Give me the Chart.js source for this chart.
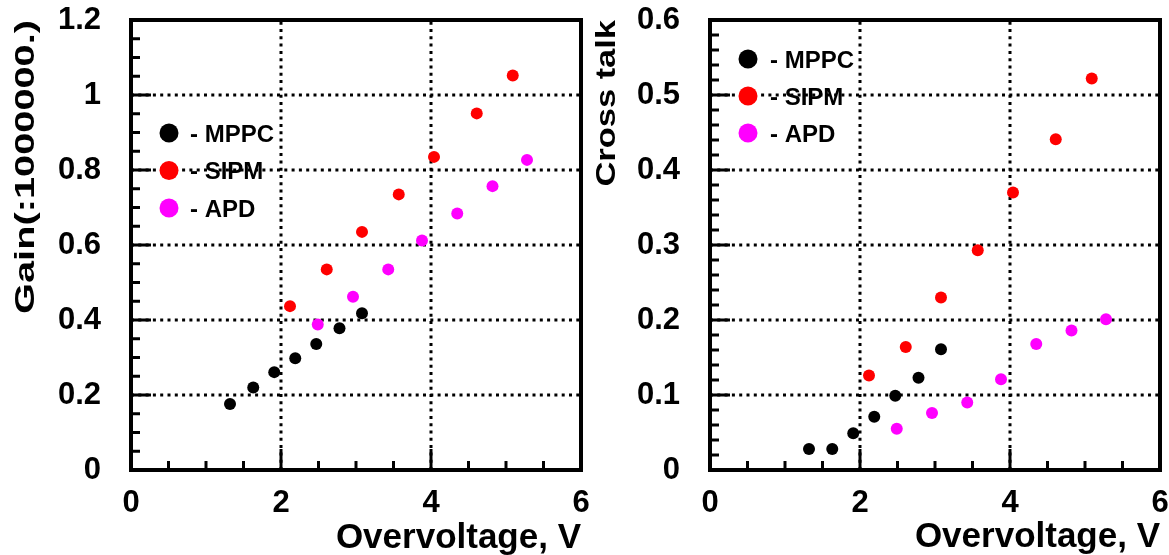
<!DOCTYPE html>
<html>
<head>
<meta charset="utf-8">
<script src="https://cdn.jsdelivr.net/npm/chart.js@4.4.1/dist/chart.umd.min.js"></script>
<style>
  html, body { margin: 0; padding: 0; background: #fff; }
  #wrap { position: relative; width: 1169px; height: 555px; overflow: hidden; }
  canvas { position: absolute; top: 0; }
  #gainChart { left: 0; }
  #ctChart { left: 590px; }
</style>
</head>
<body>
<div id="wrap">
  <canvas id="gainChart" width="590" height="555"></canvas>
  <canvas id="ctChart" width="579" height="555"></canvas>
</div>
<script>
// измерения: перенапряжение (В), усиление (x1e6) и кросс-толк
const seriesNames = ["MPPC", "SIPM", "APD"];
const seriesColors = ["#000000", "#ff0000", "#ff00ff"];

const overvoltageMPPC = [1.32, 1.63, 1.91, 2.19, 2.47, 2.78, 3.08];
const overvoltageSIPM = [2.12, 2.61, 3.08, 3.57, 4.04, 4.61, 5.09];
const overvoltageAPD = [2.49, 2.96, 3.43, 3.88, 4.35, 4.82, 5.28];

const gainMPPC = [0.176, 0.220, 0.261, 0.298, 0.336, 0.378, 0.418];
const gainSIPM = [0.437, 0.535, 0.635, 0.735, 0.835, 0.951, 1.052];
const gainAPD = [0.388, 0.462, 0.535, 0.612, 0.684, 0.757, 0.827];

const crossTalkMPPC = [0.028, 0.028, 0.049, 0.071, 0.099, 0.123, 0.161];
const crossTalkSIPM = [0.126, 0.164, 0.230, 0.293, 0.370, 0.441, 0.522];
const crossTalkAPD = [0.055, 0.076, 0.090, 0.121, 0.168, 0.186, 0.201];

const xTicks = [0, 2, 4, 6];
const gainTicks = [0, 0.2, 0.4, 0.6, 0.8, 1, 1.2];
const crossTalkTicks = [0, 0.1, 0.2, 0.3, 0.4, 0.5, 0.6];

Chart.defaults.font.family = "'Liberation Sans', Arial, sans-serif";
Chart.defaults.color = "#000";

function toPoints(xs, ys) {
  return xs.map((x, i) => ({ x: x, y: ys[i] }));
}

function makeDatasets(xsList, ysList) {
  return seriesNames.map((name, i) => ({
    label: name,
    data: toPoints(xsList[i], ysList[i]),
    backgroundColor: seriesColors[i],
    borderWidth: 0,
    pointRadius: 6,
    pointHoverRadius: 6,
  }));
}

// рамка, засечки, пунктирная сетка, легенда и подписи осей в стиле ROOT
const rootStyle = {
  id: "rootStyle",
  beforeDatasetsDraw(chart) {
    const ctx = chart.ctx;
    const a = chart.chartArea;
    const xs = chart.scales.x;
    const ys = chart.scales.y;
    ctx.save();
    ctx.strokeStyle = "#000";
    ctx.lineWidth = 3;
    ctx.setLineDash([3, 4.3]);
    xs.ticks.forEach((t) => {
      if (t.value <= xs.min || t.value >= xs.max) return;
      const px = xs.getPixelForValue(t.value);
      ctx.beginPath();
      ctx.moveTo(px, a.bottom);
      ctx.lineTo(px, a.top);
      ctx.stroke();
    });
    ys.ticks.forEach((t) => {
      if (t.value <= ys.min || t.value >= ys.max) return;
      const py = ys.getPixelForValue(t.value);
      ctx.beginPath();
      ctx.moveTo(a.left, py);
      ctx.lineTo(a.right, py);
      ctx.stroke();
    });
    ctx.restore();
  },
  afterDatasetsDraw(chart, args, opts) {
    const ctx = chart.ctx;
    const a = chart.chartArea;
    const xs = chart.scales.x;
    const ys = chart.scales.y;
    const isMajor = (scale, v) => scale.ticks.some((t) => Math.abs(t.value - v) < 1e-9);

    ctx.save();
    ctx.strokeStyle = "#000";
    ctx.lineWidth = 3;
    ctx.setLineDash([]);

    // засечки по X
    let n = Math.round((xs.max - xs.min) / opts.xMinor);
    for (let i = 0; i <= n; i++) {
      const v = xs.min + i * opts.xMinor;
      const px = xs.getPixelForValue(v);
      const len = isMajor(xs, v) ? 21 : 9;
      ctx.beginPath();
      ctx.moveTo(px, a.bottom);
      ctx.lineTo(px, a.bottom - len);
      ctx.stroke();
    }
    // засечки по Y
    n = Math.round((ys.max - ys.min) / opts.yMinor);
    for (let i = 0; i <= n; i++) {
      const v = ys.min + i * opts.yMinor;
      const py = ys.getPixelForValue(v);
      const len = isMajor(ys, v) ? 20 : 9;
      ctx.beginPath();
      ctx.moveTo(a.left, py);
      ctx.lineTo(a.left + len, py);
      ctx.stroke();
    }

    // рамка
    ctx.lineWidth = 4;
    ctx.strokeRect(a.left, a.top, a.right - a.left, a.bottom - a.top);

    // легенда
    const lg = opts.legend;
    ctx.font = "bold 24px 'Liberation Sans', Arial, sans-serif";
    ctx.textAlign = "left";
    ctx.textBaseline = "middle";
    chart.data.datasets.forEach((ds, i) => {
      const y = lg.y + i * lg.dy;
      ctx.fillStyle = ds.backgroundColor;
      ctx.beginPath();
      ctx.arc(lg.x, y, 9.5, 0, Math.PI * 2);
      ctx.fill();
      ctx.fillStyle = "#000";
      ctx.fillText("- " + ds.label, lg.textX, y + 2);
    });

    // подпись оси X
    ctx.font = "bold 35px 'Liberation Sans', Arial, sans-serif";
    ctx.textAlign = "right";
    ctx.textBaseline = "alphabetic";
    ctx.fillText(opts.xTitle, a.right, opts.xTitleY);

    // подпись оси Y (повернута)
    ctx.translate(opts.yTitleX, a.top);
    ctx.rotate(-Math.PI / 2);
    ctx.scale(opts.yTitleStretch, 1);
    ctx.font = "bold 28px 'Liberation Sans', Arial, sans-serif";
    ctx.textAlign = "right";
    ctx.fillText(opts.yTitle, 0, 0);
    ctx.restore();
  },
};

function makeChart(canvasId, datasets, yTicks, yMax, axisWidth, styleOpts) {
  return new Chart(document.getElementById(canvasId), {
    type: "scatter",
    data: { datasets: datasets },
    options: {
      responsive: false,
      animation: false,
      layout: { padding: { top: 20, right: 9, left: 0, bottom: 0 } },
      scales: {
        x: {
          type: "linear",
          min: 0,
          max: 6,
          afterFit: (s) => {
            s.height = 85;
            s.paddingLeft = 0;
            s.paddingRight = 0;
          },
          afterBuildTicks: (s) => { s.ticks = xTicks.map((v) => ({ value: v })); },
          ticks: { font: { size: 31, weight: "bold" }, color: "#000", padding: 15, callback: (v) => String(v) },
          grid: { display: false, drawTicks: false },
          border: { display: false },
        },
        y: {
          type: "linear",
          min: 0,
          max: yMax,
          afterFit: (s) => {
            s.width = axisWidth;
            s.paddingTop = 0;
            s.paddingBottom = 0;
          },
          afterBuildTicks: (s) => { s.ticks = yTicks.map((v) => ({ value: v })); },
          ticks: { font: { size: 31, weight: "bold" }, color: "#000", padding: 30, callback: (v) => String(v) },
          grid: { display: false, drawTicks: false },
          border: { display: false },
        },
      },
      plugins: {
        legend: { display: false },
        tooltip: { enabled: false },
        rootStyle: styleOpts,
      },
    },
    plugins: [rootStyle],
  });
}

makeChart(
  "gainChart",
  makeDatasets([overvoltageMPPC, overvoltageSIPM, overvoltageAPD], [gainMPPC, gainSIPM, gainAPD]),
  gainTicks, 1.2, 131,
  {
    xMinor: 0.5,
    yMinor: 0.05,
    legend: { x: 169, y: 133, dy: 37.5, textX: 190 },
    xTitle: "Overvoltage, V",
    xTitleY: 548,
    yTitle: "Gain(:1000000.)",
    yTitleX: 34,
    yTitleStretch: 1.42,
  }
);

makeChart(
  "ctChart",
  makeDatasets([overvoltageMPPC, overvoltageSIPM, overvoltageAPD], [crossTalkMPPC, crossTalkSIPM, crossTalkAPD]),
  crossTalkTicks, 0.6, 120,
  {
    xMinor: 0.5,
    yMinor: 0.02,
    legend: { x: 158, y: 59, dy: 37, textX: 180 },
    xTitle: "Overvoltage, V",
    xTitleY: 547,
    yTitle: "Cross talk",
    yTitleX: 25,
    yTitleStretch: 1.23,
  }
);
</script>
</body>
</html>
